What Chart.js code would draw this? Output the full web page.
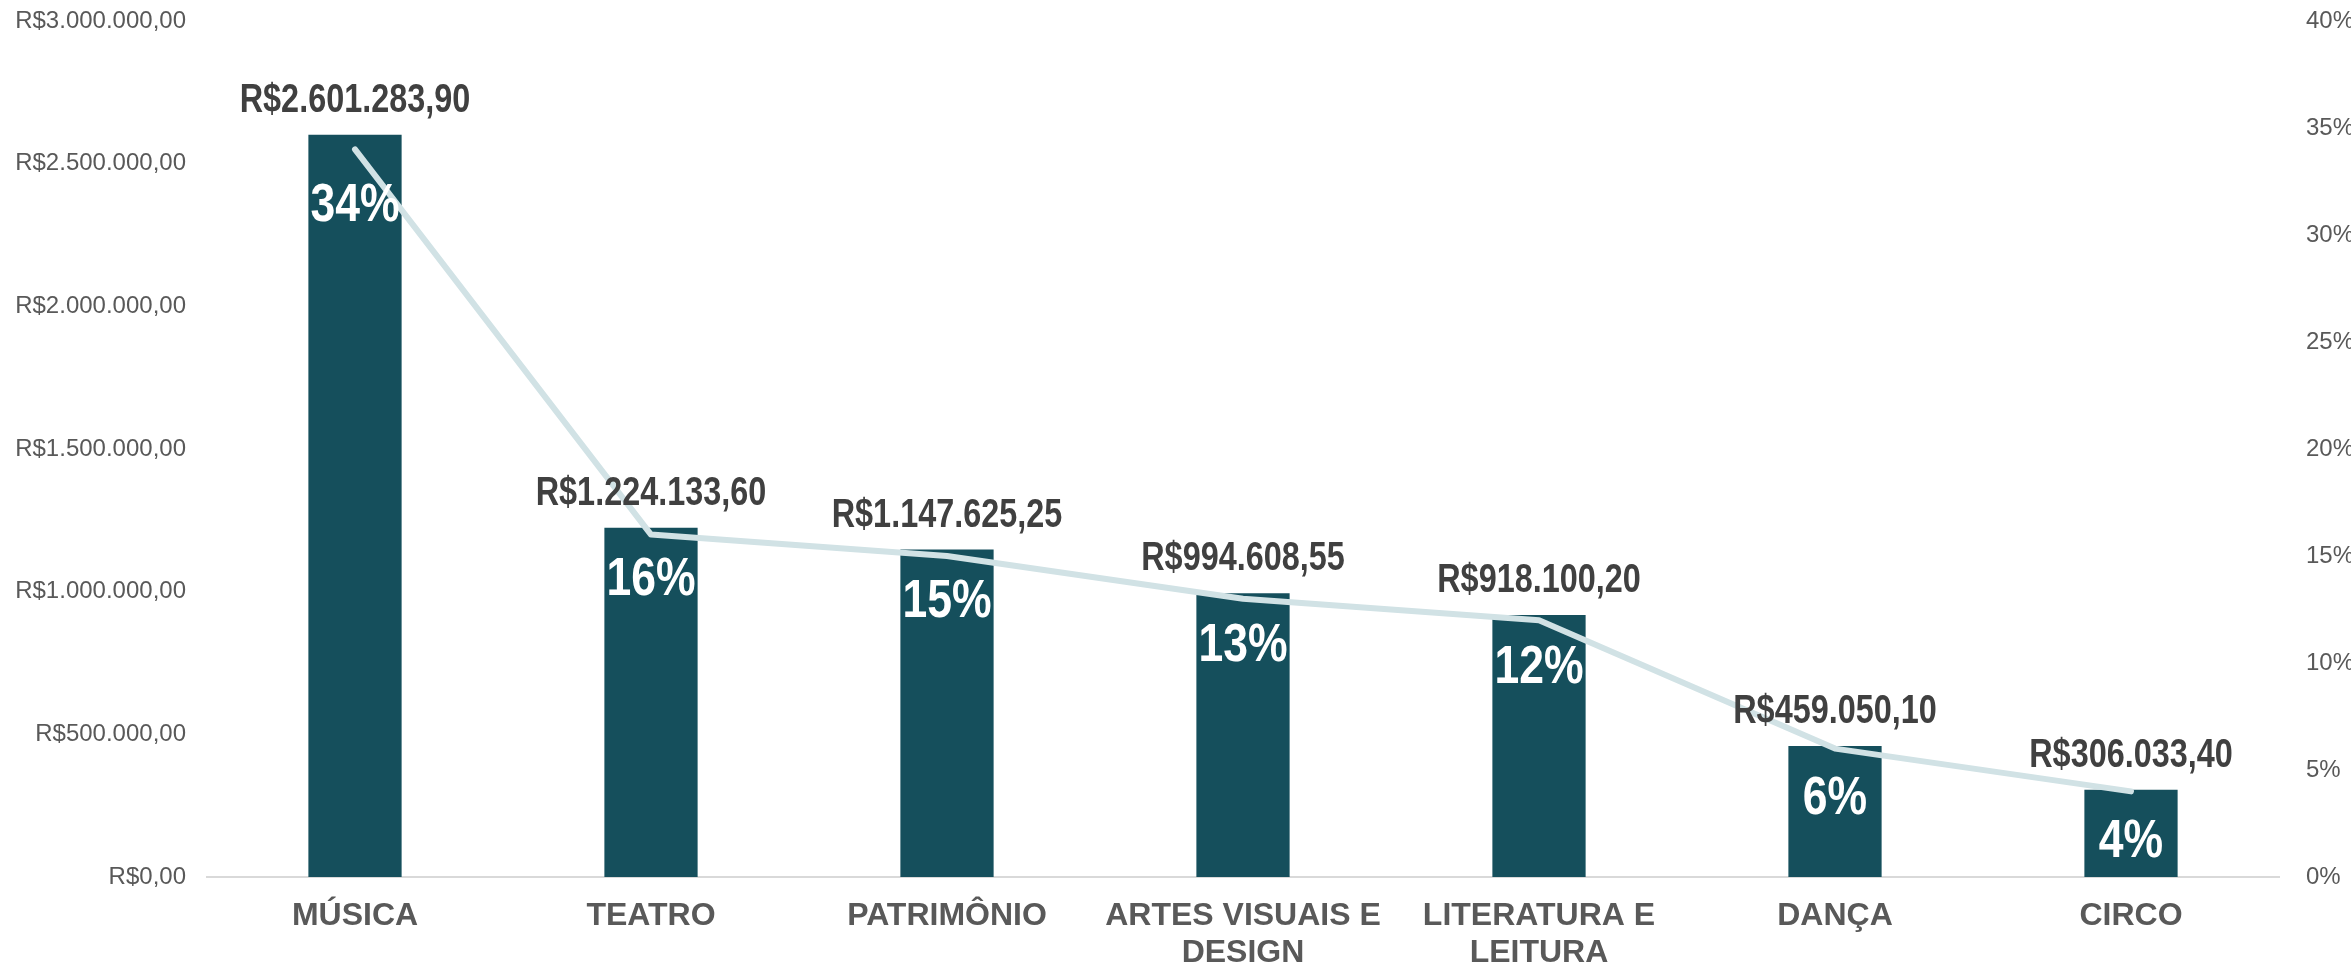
<!DOCTYPE html>
<html>
<head>
<meta charset="utf-8">
<script src="https://cdn.jsdelivr.net/npm/chart.js@4.4.1/dist/chart.umd.min.js"></script>
<style>
  html, body { margin: 0; padding: 0; background: #ffffff; }
  #wrap { width: 2351px; height: 965px; }
</style>
</head>
<body>
<div id="wrap"><canvas id="c" width="2351" height="965"></canvas></div>
<script>
const categories = ['MÚSICA', 'TEATRO', 'PATRIMÔNIO', ['ARTES VISUAIS E', 'DESIGN'], ['LITERATURA E', 'LEITURA'], 'DANÇA', 'CIRCO'];
const amounts = [2601283.90, 1224133.60, 1147625.25, 994608.55, 918100.20, 459050.10, 306033.40];
const shares = [0.34, 0.16, 0.15, 0.13, 0.12, 0.06, 0.04];
const leftTicks = [0, 500000, 1000000, 1500000, 2000000, 2500000, 3000000];
const rightTicks = [0, 0.05, 0.10, 0.15, 0.20, 0.25, 0.30, 0.35, 0.40];

function brl(v) {
  const neg = v < 0; v = Math.abs(v);
  const cents = Math.round(v * 100);
  const intPart = Math.floor(cents / 100).toString();
  const dec = (cents % 100).toString().padStart(2, '0');
  const withDots = intPart.replace(/\B(?=(\d{3})+(?!\d))/g, '.');
  return (neg ? '-' : '') + 'R$' + withDots + ',' + dec;
}
function pct(v) { return Math.round(v * 100) + '%'; }

const SANS = '"Liberation Sans", Arial, sans-serif';

function condensedText(ctx, text, x, y, sx) {
  ctx.save();
  ctx.translate(x, y);
  ctx.scale(sx, 1);
  ctx.fillText(text, 0, 0);
  ctx.restore();
}

const labelPlugin = {
  id: 'labels',
  afterDatasetsDraw(chart) {
    const ctx = chart.ctx;
    const meta = chart.getDatasetMeta(1);
    ctx.save();
    ctx.textAlign = 'center';
    ctx.textBaseline = 'middle';
    meta.data.forEach((bar, i) => {
      ctx.font = 'bold 40px ' + SANS;
      ctx.fillStyle = '#404040';
      condensedText(ctx, brl(amounts[i]), bar.x, bar.y - 34, 0.81);
      ctx.font = 'bold 53px ' + SANS;
      ctx.fillStyle = '#ffffff';
      condensedText(ctx, pct(shares[i]), bar.x, bar.y + (i === 0 ? 72 : 53), 0.84);
    });
    ctx.restore();
  }
};

function fixVertical(width) {
  return function (s) {
    s.width = width;
    s.paddingTop = 0;
    s.paddingBottom = 0;
  };
}

new Chart(document.getElementById('c'), {
  data: {
    labels: categories,
    datasets: [
      {
        type: 'line',
        data: shares,
        yAxisID: 'y1',
        borderColor: '#d1e2e5',
        borderWidth: 6,
        borderCapStyle: 'round',
        borderJoinStyle: 'round',
        pointRadius: 0,
        tension: 0,
        order: 0
      },
      {
        type: 'bar',
        data: amounts,
        yAxisID: 'y',
        backgroundColor: '#154f5c',
        categoryPercentage: 0.315,
        barPercentage: 1.0,
        order: 1
      }
    ]
  },
  options: {
    responsive: false,
    animation: false,
    devicePixelRatio: 1,
    layout: { padding: { top: 21, left: 0, right: 0, bottom: 0 } },
    plugins: { legend: { display: false }, tooltip: { enabled: false } },
    scales: {
      x: {
        grid: { display: false, drawTicks: false },
        border: { display: true, color: '#d9d9d9', width: 2 },
        ticks: {
          color: '#595959',
          font: { family: SANS, weight: 'bold', size: 32, lineHeight: 1.17 },
          padding: 20,
          maxRotation: 0,
          autoSkip: false
        },
        afterFit(s) { s.height = 88; s.paddingLeft = 0; s.paddingRight = 0; }
      },
      y: {
        position: 'left',
        min: 0, max: 3000000,
        grid: { display: false, drawTicks: false },
        border: { display: false },
        afterBuildTicks(s) { s.ticks = leftTicks.map(v => ({ value: v })); },
        ticks: {
          color: '#595959',
          font: { family: SANS, size: 24 },
          padding: 21,
          callback: v => brl(v)
        },
        afterFit: fixVertical(207)
      },
      y1: {
        position: 'right',
        min: 0, max: 0.4,
        grid: { display: false, drawTicks: false },
        border: { display: false },
        afterBuildTicks(s) { s.ticks = rightTicks.map(v => ({ value: v })); },
        ticks: {
          color: '#595959',
          font: { family: SANS, size: 24 },
          padding: 27,
          callback: v => pct(v)
        },
        afterFit: fixVertical(72)
      }
    }
  },
  plugins: [labelPlugin]
});
</script>
</body>
</html>
